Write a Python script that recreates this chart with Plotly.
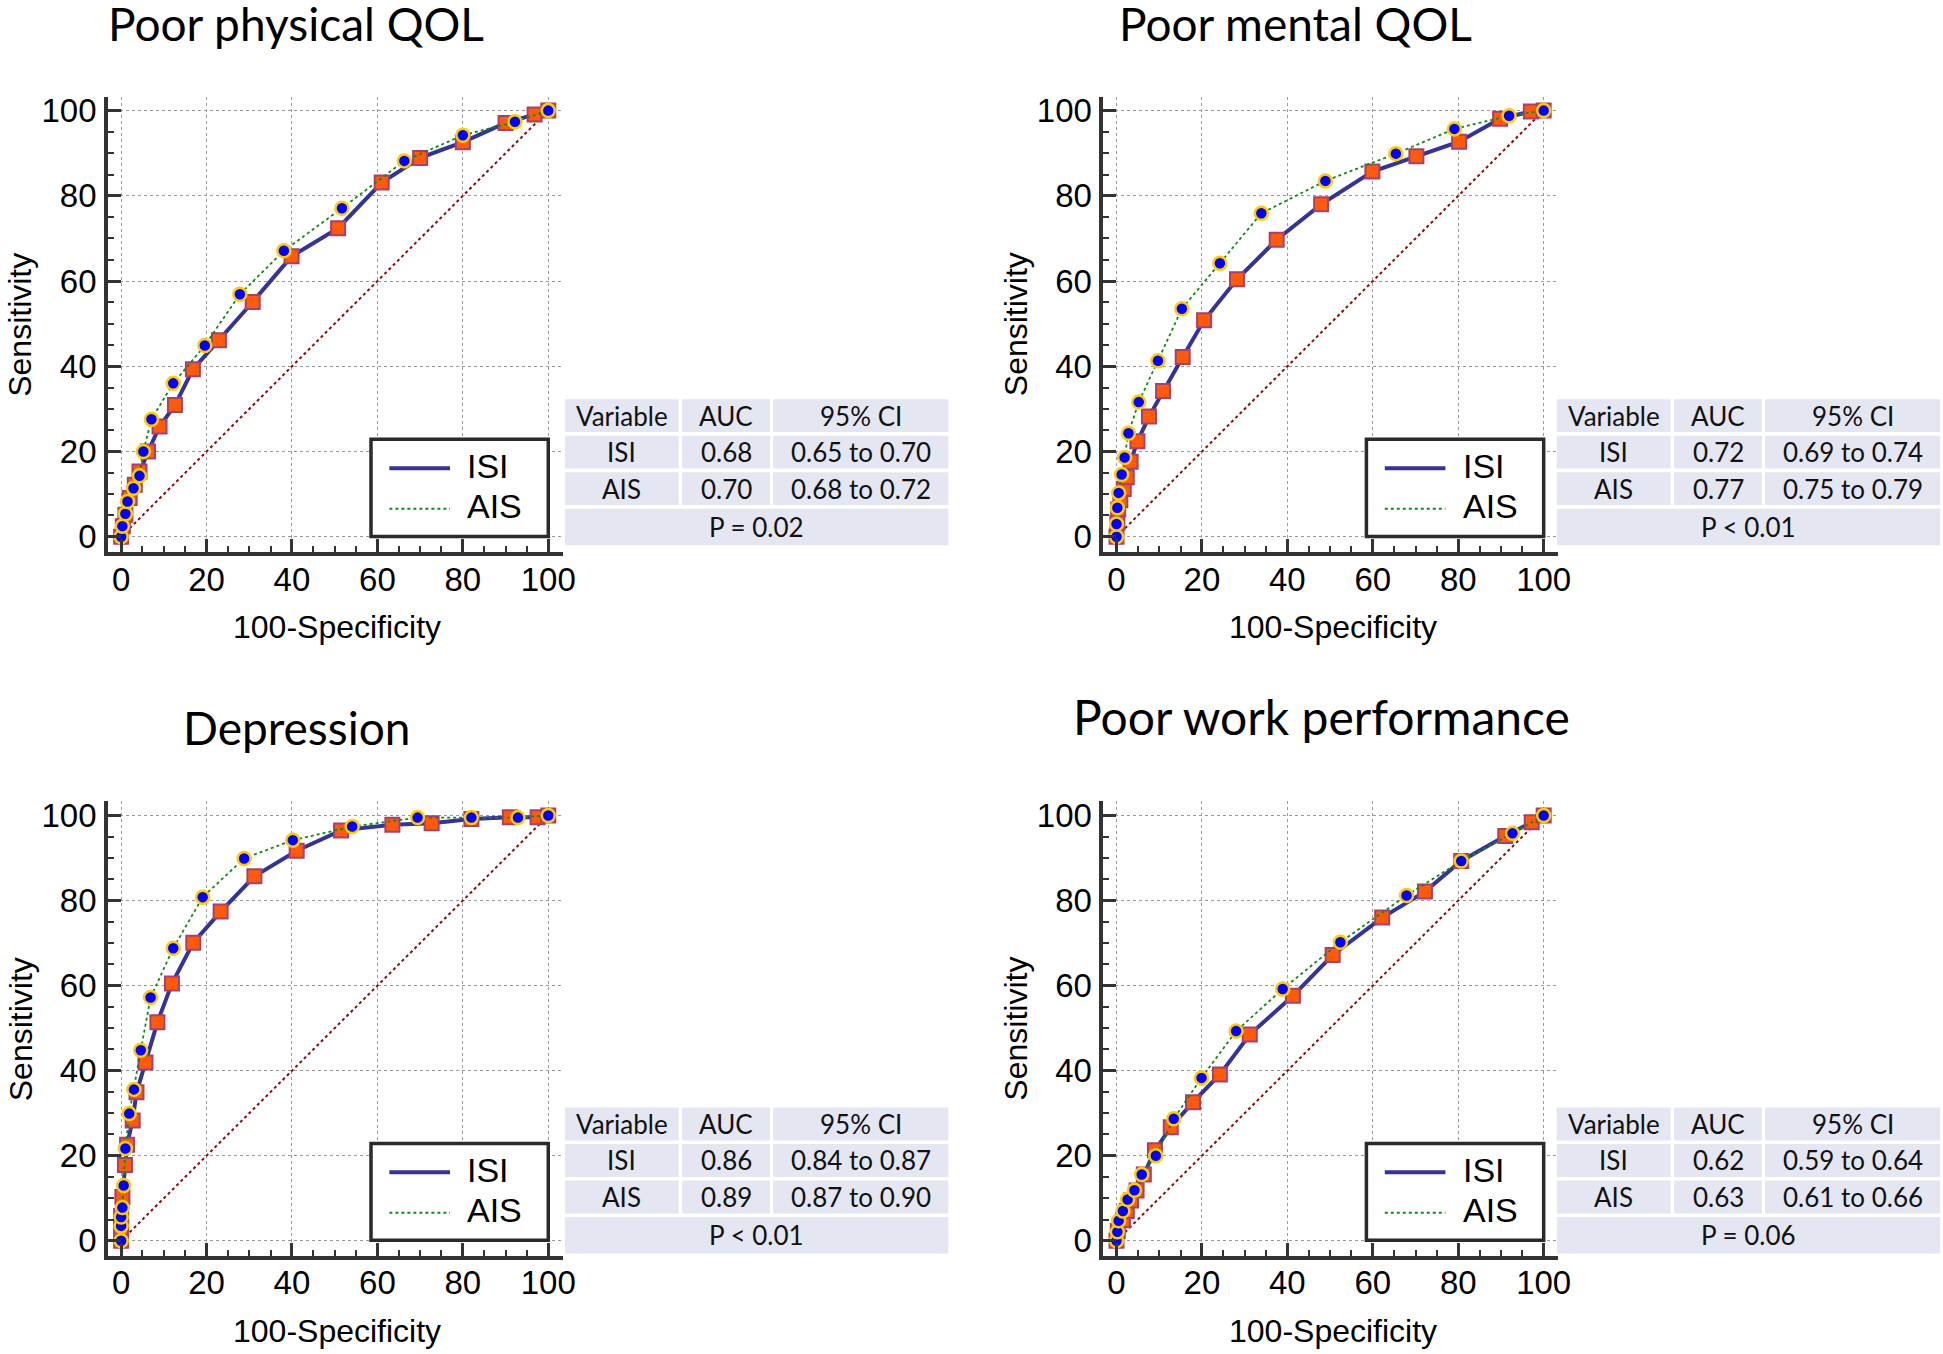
import plotly.graph_objects as go

W, H = 1943, 1354

titles = ["Poor physical QOL", "Poor mental QOL", "Depression", "Poor work performance"]

# ROC points (x = 100-Specificity, y = Sensitivity)
phys_isi_x = [0, 0.4, 1, 2, 3.2, 4.3, 6.3, 9, 12.6, 16.8, 22.9, 30.8, 39.9, 50.8, 61, 70, 80, 90, 96.8, 100]
phys_isi_y = [0, 2.5, 5.2, 9.1, 12.2, 15.3, 20, 25.9, 30.9, 39.3, 46.1, 55.1, 65.8, 72.4, 83.1, 88.9, 92.6, 97.1, 99.1, 100]
phys_ais_x = [0, 0.3, 1, 1.5, 2.9, 4.3, 5.2, 7.1, 12.2, 19.6, 27.8, 38.1, 51.7, 66.3, 80, 92.2, 100]
phys_ais_y = [0, 2.5, 5.4, 8.3, 11.4, 14.3, 20, 27.6, 36, 44.9, 56.9, 67.1, 77.1, 88.2, 94.2, 97.4, 100]

ment_isi_x = [0, 0.2, 0.4, 0.9, 1.7, 2.4, 3.3, 4.9, 7.6, 10.9, 15.5, 20.5, 28.2, 37.5, 47.9, 59.9, 70.2, 80.2, 89.8, 97, 100]
ment_isi_y = [0, 3.3, 6.4, 8.6, 11.2, 14, 17.6, 22.4, 28.2, 34.2, 42.2, 50.8, 60.4, 69.7, 78, 85.7, 89.3, 92.7, 98.1, 99.8, 100]
ment_ais_x = [0, 0, 0.2, 0.5, 1.2, 1.9, 2.8, 5.2, 9.7, 15.3, 24.2, 33.9, 48.9, 65.4, 79.1, 91.9, 100]
ment_ais_y = [0, 3, 6.8, 10.3, 14.6, 18.6, 24.3, 31.6, 41.3, 53.5, 64.2, 75.9, 83.5, 89.9, 95.7, 98.8, 100]

dep_isi_x = [0, 0, 0, 0.3, 0.9, 1.4, 2.7, 3.6, 5.7, 8.5, 11.9, 16.9, 23.3, 31.2, 41.1, 51.5, 63.5, 72.7, 82, 91, 97.5, 100]
dep_isi_y = [0, 3, 5.8, 10.3, 17.8, 22.6, 28.3, 34.9, 41.9, 51.4, 60.5, 70.1, 77.4, 85.7, 91.7, 96.5, 97.8, 98.2, 99.2, 99.6, 99.6, 100]
dep_ais_x = [0, 0, 0, 0.3, 0.6, 1, 1.9, 3, 4.6, 6.9, 12.2, 19.1, 28.8, 40.2, 54.1, 69.4, 82, 92.9, 100]
dep_ais_y = [0, 3.5, 5.6, 7.8, 13, 21.7, 29.9, 35.6, 44.8, 57.2, 68.8, 80.8, 89.9, 94.2, 97.4, 99.5, 99.5, 99.5, 100]

work_isi_x = [0, 0.3, 1.5, 2.4, 3.4, 4.7, 6.4, 9, 12.7, 17.9, 24.2, 31.2, 41.3, 50.6, 62.2, 72.2, 80.7, 91, 97.2, 100]
work_isi_y = [0, 2.3, 4.8, 7, 9.5, 11.8, 15.6, 21.3, 26.7, 32.6, 39.1, 48.5, 57.6, 67.2, 76, 82.1, 89.3, 95.2, 98.4, 100]
work_ais_x = [0, 0.2, 0.5, 1.5, 2.6, 4.2, 5.9, 9.2, 13.4, 19.9, 28, 38.9, 52.4, 67.9, 80.7, 92.7, 100]
work_ais_y = [0, 2.1, 4.7, 7, 9.7, 11.9, 15.6, 20, 28.7, 38.3, 49.3, 59.2, 70.2, 81.2, 89.3, 95.8, 100]

# table contents
auc_isi = ["0.68", "0.72", "0.86", "0.62"]
auc_ais = ["0.70", "0.77", "0.89", "0.63"]
ci_isi = ["0.65 to 0.70", "0.69 to 0.74", "0.84 to 0.87", "0.59 to 0.64"]
ci_ais = ["0.68 to 0.72", "0.75 to 0.79", "0.87 to 0.90", "0.61 to 0.66"]
p_text = ["P = 0.02", "P < 0.01", "P < 0.01", "P = 0.06"]

isi_data = [(phys_isi_x, phys_isi_y), (ment_isi_x, ment_isi_y), (dep_isi_x, dep_isi_y), (work_isi_x, work_isi_y)]
ais_data = [(phys_ais_x, phys_ais_y), (ment_ais_x, ment_ais_y), (dep_ais_x, dep_ais_y), (work_ais_x, work_ais_y)]

# pixel boxes of each axes (left, right, top, bottom)
boxes = [(108.6, 566.6, 93.0, 551.0), (1110.7, 1568.7, 93.0, 551.0),
         (108.6, 566.6, 801.6, 1258.6), (1110.7, 1568.7, 801.6, 1258.6)]
title_pos = [(298, 20), (1304, 20), (298.5, 727), (1330, 716)]
title_size = [46, 46, 46, 48]
table_pos = [(568.7, 397.3), (1567.3, 397.3), (568.7, 1109.3), (1567.3, 1109.3)]

ISI_LINE = "#33339a"
AIS_LINE = "#118a11"
AXIS_COL = "#333333"
TITLE_FONT = "Lato"
NUM_FONT = "Liberation Sans"


def fx(p):
    return p / W


def fy(p):
    return 1 - p / H


fig = go.Figure()
shapes = []
annotations = []

for i in range(4):
    sfx = "" if i == 0 else str(i + 1)
    xa, ya = "x" + sfx, "y" + sfx
    l, r, t, b = boxes[i]

    fig.add_trace(go.Scatter(x=[0, 100], y=[0, 100], mode="lines", xaxis=xa, yaxis=ya,
                             line=dict(color="#8b0a0a", width=2, dash="dot"), hoverinfo="skip"))
    fig.add_trace(go.Scatter(x=isi_data[i][0], y=isi_data[i][1], mode="lines+markers", xaxis=xa, yaxis=ya,
                             name="ISI", line=dict(color=ISI_LINE, width=4),
                             marker=dict(symbol="square", size=14, color="#ff5a0a",
                                         line=dict(color="#a8406e", width=2))))
    fig.add_trace(go.Scatter(x=ais_data[i][0], y=ais_data[i][1], mode="lines+markers", xaxis=xa, yaxis=ya,
                             name="AIS", line=dict(color=AIS_LINE, width=1.8, dash="dot"),
                             marker=dict(symbol="circle", size=13, color="#0000ff",
                                         line=dict(color="#ffcc00", width=2.5))))

    common = dict(showline=True, linecolor=AXIS_COL, linewidth=3.5, mirror=False,
                  showgrid=True, gridcolor="#9a9a9a", griddash="dot", gridwidth=1,
                  zeroline=False, tickmode="array", tickvals=[0, 20, 40, 60, 80, 100],
                  ticks="inside", ticklen=13, tickwidth=3, tickcolor=AXIS_COL,
                  tickfont=dict(family=NUM_FONT, size=33, color="black"),
                  minor=dict(ticks="inside", dtick=5, ticklen=6, tickwidth=2,
                             tickcolor=AXIS_COL, showgrid=False))
    fig.layout["xaxis" + sfx] = dict(common, domain=[fx(l), fx(r)], range=[-3.1, 103.4],
                                     anchor=ya, ticklabelstandoff=-5)
    fig.layout["yaxis" + sfx] = dict(common, domain=[fy(b), fy(t)], range=[-3.6, 103.3],
                                     anchor=xa, ticklabelstandoff=1)

    # titles
    tx, ty = title_pos[i]
    annotations.append(dict(text=titles[i], x=fx(tx), y=fy(ty), xref="paper", yref="paper",
                            xanchor="center", yanchor="middle", showarrow=False,
                            font=dict(family=TITLE_FONT, size=title_size[i], color="black")))
    # axis titles
    annotations.append(dict(text="Sensitivity", x=fx(l - 88), y=fy((t + b) / 2), xref="paper", yref="paper",
                            textangle=-90, xanchor="center", yanchor="middle", showarrow=False,
                            font=dict(family=NUM_FONT, size=32, color="black")))
    annotations.append(dict(text="100-Specificity", x=fx(l + 231), y=fy(b + 75), xref="paper", yref="paper",
                            xanchor="center", yanchor="middle", showarrow=False,
                            font=dict(family=NUM_FONT, size=32, color="black")))

    # legend box drawn in data units of the panel
    shapes.append(dict(type="rect", xref=xa, yref=ya, x0=58.5, x1=100, y0=0.1, y1=22.9,
                       fillcolor="white", line=dict(color="#2a2a2a", width=3.5), layer="above"))
    shapes.append(dict(type="line", xref=xa, yref=ya, x0=62.8, x1=77, y0=16.1, y1=16.1,
                       line=dict(color=ISI_LINE, width=4), layer="above"))
    shapes.append(dict(type="line", xref=xa, yref=ya, x0=62.8, x1=77, y0=6.6, y1=6.6,
                       line=dict(color=AIS_LINE, width=2, dash="dot"), layer="above"))
    for txt, yy in (("ISI", 16.6), ("AIS", 7.2)):
        annotations.append(dict(text=txt, x=80.6, y=yy, xref=xa, yref=ya, xanchor="left",
                                yanchor="middle", showarrow=False,
                                font=dict(family=NUM_FONT, size=34, color="black")))

    # results table
    tl, tt = table_pos[i]
    cols = [(0, 114.6), (118, 206.6), (209.6, 386)]
    rows = [(0, 33), (36.7, 69.7), (73.4, 106.4)]
    cells = [["Variable", "AUC", "95% CI"],
             ["ISI", auc_isi[i], ci_isi[i]],
             ["AIS", auc_ais[i], ci_ais[i]]]
    for ri, (r0, r1) in enumerate(rows):
        for ci, (c0, c1) in enumerate(cols):
            shapes.append(dict(type="rect", xref="paper", yref="paper",
                               x0=fx(tl + c0), x1=fx(tl + c1), y0=fy(tt + r1), y1=fy(tt + r0),
                               fillcolor="#e4e6f2", line=dict(width=0), layer="below"))
            annotations.append(dict(text=cells[ri][ci], x=fx(tl + (c0 + c1) / 2), y=fy(tt + (r0 + r1) / 2),
                                    xref="paper", yref="paper", xanchor="center", yanchor="middle",
                                    showarrow=False, font=dict(family=TITLE_FONT, size=26, color="#111111")))
    shapes.append(dict(type="rect", xref="paper", yref="paper",
                       x0=fx(tl), x1=fx(tl + 386), y0=fy(tt + 146.7), y1=fy(tt + 110),
                       fillcolor="#e4e6f2", line=dict(width=0), layer="below"))
    annotations.append(dict(text=p_text[i], x=fx(tl + 193), y=fy(tt + 128.3), xref="paper", yref="paper",
                            xanchor="center", yanchor="middle", showarrow=False,
                            font=dict(family=TITLE_FONT, size=26, color="#111111")))

fig.update_layout(width=W, height=H, margin=dict(l=0, r=0, t=0, b=0),
                  paper_bgcolor="white", plot_bgcolor="white", showlegend=False,
                  shapes=shapes, annotations=annotations)

# drop the browser's default 8px body margin so the figure starts at the page corner
fig.write_html("out.html", config={"displayModeBar": False},
               post_script="document.body.style.margin='0';")
